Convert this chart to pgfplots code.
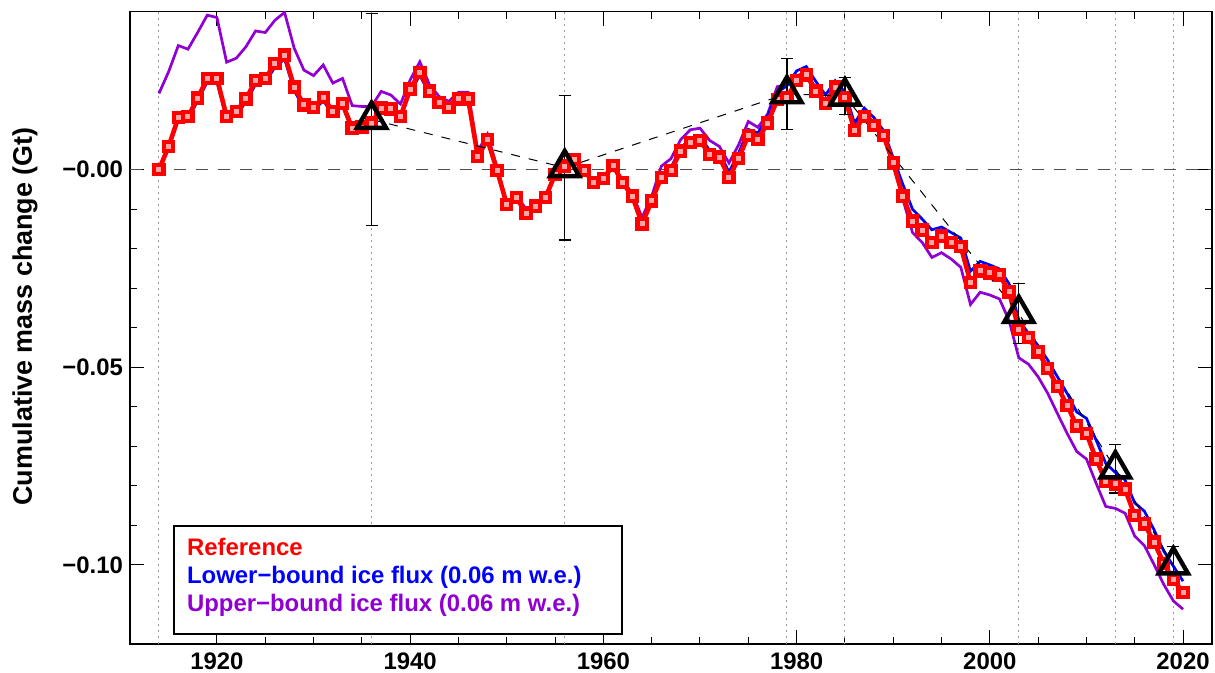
\documentclass[border=0pt]{standalone}
\usepackage{fontspec}
\setmainfont{Liberation Sans}
\usepackage{pgfplots}
\pgfplotsset{compat=1.18}
\usepackage{pgfplotstable}
\definecolor{refred}{RGB}{255,0,0}
\definecolor{lowblue}{RGB}{0,0,255}
\definecolor{uppurple}{RGB}{145,0,210}

% year, reference, lower-bound flux, upper-bound flux
\pgfplotstableread{
yr ref low up
1914 0.0000 0.0000 0.0193
1915 0.0059 0.0055 0.0248
1916 0.0132 0.0126 0.0314
1917 0.0134 0.0128 0.0305
1918 0.0181 0.0174 0.0347
1919 0.0230 0.0222 0.0391
1920 0.0231 0.0223 0.0385
1921 0.0135 0.0127 0.0272
1922 0.0147 0.0139 0.0282
1923 0.0179 0.0171 0.0311
1924 0.0225 0.0216 0.0351
1925 0.0230 0.0221 0.0347
1926 0.0269 0.0259 0.0378
1927 0.0290 0.0280 0.0398
1928 0.0209 0.0200 0.0307
1929 0.0164 0.0156 0.0252
1930 0.0157 0.0149 0.0238
1931 0.0183 0.0175 0.0265
1932 0.0147 0.0140 0.0219
1933 0.0167 0.0160 0.0231
1934 0.0105 0.0099 0.0162
1935 0.0108 0.0102 0.0160
1936 0.0118 0.0112 0.0160
1937 0.0156 0.0150 0.0198
1938 0.0154 0.0148 0.0189
1939 0.0135 0.0130 0.0166
1940 0.0204 0.0198 0.0227
1941 0.0246 0.0238 0.0273
1942 0.0199 0.0193 0.0215
1943 0.0170 0.0165 0.0185
1944 0.0157 0.0152 0.0173
1945 0.0179 0.0174 0.0196
1946 0.0179 0.0174 0.0196
1947 0.0034 0.0030 0.0047
1948 0.0076 0.0072 0.0090
1949 -0.0002 -0.0005 0.0005
1950 -0.0088 -0.0090 -0.0085
1951 -0.0071 -0.0073 -0.0064
1952 -0.0110 -0.0111 -0.0100
1953 -0.0092 -0.0093 -0.0088
1954 -0.0071 -0.0072 -0.0067
1955 -0.0012 -0.0012 -0.0010
1956 0.0009 0.0009 0.0010
1957 0.0026 0.0026 0.0028
1958 -0.0002 -0.0001 0.0000
1959 -0.0033 -0.0032 -0.0030
1960 -0.0023 -0.0021 -0.0020
1961 0.0011 0.0013 0.0015
1962 -0.0033 -0.0030 -0.0028
1963 -0.0067 -0.0063 -0.0060
1964 -0.0137 -0.0132 -0.0121
1965 -0.0079 -0.0073 -0.0067
1966 -0.0019 -0.0012 0.0009
1967 -0.0002 0.0006 0.0028
1968 0.0047 0.0055 0.0076
1969 0.0069 0.0078 0.0101
1970 0.0074 0.0084 0.0105
1971 0.0038 0.0049 0.0074
1972 0.0032 0.0044 0.0059
1973 -0.0019 -0.0006 0.0017
1974 0.0028 0.0042 0.0063
1975 0.0087 0.0102 0.0122
1976 0.0077 0.0093 0.0107
1977 0.0118 0.0135 0.0141
1978 0.0177 0.0196 0.0210
1979 0.0182 0.0212 0.0215
1980 0.0225 0.0250 0.0238
1981 0.0240 0.0261 0.0245
1982 0.0199 0.0223 0.0206
1983 0.0168 0.0189 0.0172
1984 0.0209 0.0225 0.0213
1985 0.0182 0.0196 0.0188
1986 0.0099 0.0118 0.0106
1987 0.0135 0.0156 0.0143
1988 0.0112 0.0132 0.0120
1989 0.0086 0.0099 0.0089
1990 0.0017 0.0030 0.0013
1991 -0.0067 -0.0037 -0.0075
1992 -0.0130 -0.0100 -0.0159
1993 -0.0153 -0.0125 -0.0184
1994 -0.0184 -0.0152 -0.0222
1995 -0.0168 -0.0145 -0.0210
1996 -0.0184 -0.0159 -0.0226
1997 -0.0195 -0.0173 -0.0247
1998 -0.0285 -0.0257 -0.0341
1999 -0.0256 -0.0232 -0.0310
2000 -0.0261 -0.0241 -0.0317
2001 -0.0266 -0.0251 -0.0327
2002 -0.0309 -0.0289 -0.0382
2003 -0.0405 -0.0380 -0.0476
2004 -0.0425 -0.0414 -0.0492
2005 -0.0461 -0.0445 -0.0524
2006 -0.0503 -0.0482 -0.0566
2007 -0.0548 -0.0524 -0.0617
2008 -0.0596 -0.0566 -0.0667
2009 -0.0648 -0.0613 -0.0713
2010 -0.0667 -0.0629 -0.0732
2011 -0.0732 -0.0684 -0.0793
2012 -0.0789 -0.0743 -0.0852
2013 -0.0795 -0.0766 -0.0857
2014 -0.0808 -0.0785 -0.0869
2015 -0.0875 -0.0843 -0.0927
2016 -0.0896 -0.0864 -0.0951
2017 -0.0942 -0.0911 -0.0999
2018 -0.0996 -0.0965 -0.1049
2019 -0.1037 -0.1003 -0.1091
2020 -0.1070 -0.1041 -0.1112
}\massdata

% geodetic estimates with uncertainty
\pgfplotstableread{
yr val err
1936 0.0127 0.0268
1956 0.0005 0.0183
1979 0.0192 0.0090
1985 0.0186 0.0047
2003 -0.0364 0.0076
2013 -0.0757 0.0061
2019 -0.1000 0.0047
}\geodata

\begin{document}
\begin{tikzpicture}
\useasboundingbox (-65bp,-14.5bp) rectangle (542.5bp,322bp);
\begin{axis}[
  at={(0,0)}, anchor=south west,
  scale only axis, width=541bp, height=316.2bp,
  xmin=1911, xmax=2023, ymin=-0.12, ymax=0.04,
  xtick={1920,1940,1960,1980,2000,2020},
  minor x tick num=3,
  ytick={-0.1,-0.05,0},
  yticklabels={−0.10,−0.05,−0.00},
  minor y tick num=4,
  tick pos=both, tick align=inside,
  major tick length=7bp, minor tick length=3.5bp,
  tick style={black, line width=0.5bp},
  axis line style={black, line width=0.7bp},
  /pgf/number format/assume math mode=true,
  /pgf/number format/1000 sep={},
  ticklabel style={font=\fontsize{12}{14}\selectfont\bfseries},
  xticklabel style={yshift=-1bp},
  ylabel={Cumulative mass change (Gt)},
  ylabel style={font=\fontsize{13.5}{16}\selectfont\bfseries,
    at={(axis description cs:-0.097,0.518)}, anchor=center},
]
\pgfplotsinvokeforeach{1914,1936,1956,1979,1985,2003,2013,2019}{
  \draw[gray!80, line width=0.5bp, dash pattern=on 1bp off 2bp]
    (axis cs:#1,-0.12) -- (axis cs:#1,0.04);
}
\draw[gray!60!black, line width=0.7bp, dash pattern=on 6bp off 5bp]
  (axis cs:1911,0) -- (axis cs:2023,0);

\addplot[uppurple, line width=1.35bp] table[x=yr, y=up] {\massdata};
\addplot[lowblue, line width=1.35bp] table[x=yr, y=low] {\massdata};
\addplot[refred, line width=2.3bp, mark=square*, mark size=2.3bp,
  mark options={solid, fill=red!35, draw=refred, line width=2.1bp}]
  table[x=yr, y=ref] {\massdata};

\addplot[black, line width=0.5bp, dash pattern=on 4.5bp off 4.5bp]
  table[x=yr, y=val] {\geodata};
\addplot[black, only marks, mark=triangle, mark size=8.4bp,
  mark options={line width=2.2bp, solid},
  error bars/.cd, y dir=both, y explicit,
  error bar style={line width=0.7bp, solid, black},
  error mark options={rotate=90, mark size=3bp, line width=0.7bp, black}]
  table[x=yr, y=val, y error=err] {\geodata};

\draw[black, line width=0.6bp, fill=white]
  (rel axis cs:0.0407,0.0158) rectangle (rel axis cs:0.4547,0.1866);
\node[anchor=base west, font=\fontsize{12}{14}\selectfont\bfseries, text=refred, inner sep=0]
  at (rel axis cs:0.0524,0.1407) {Reference};
\node[anchor=base west, font=\fontsize{12}{14}\selectfont\bfseries, text=lowblue, inner sep=0]
  at (rel axis cs:0.0524,0.0961) {Lower−bound ice flux (0.06 m w.e.)};
\node[anchor=base west, font=\fontsize{12}{14}\selectfont\bfseries, text=uppurple, inner sep=0]
  at (rel axis cs:0.0524,0.0515) {Upper−bound ice flux (0.06 m w.e.)};
\end{axis}
\end{tikzpicture}
\end{document}
